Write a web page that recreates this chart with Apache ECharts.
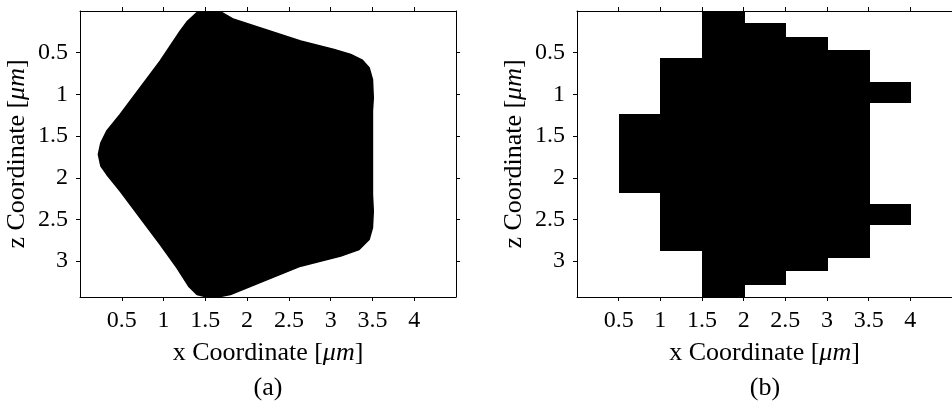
<!DOCTYPE html>
<html><head><meta charset="utf-8">
<script src="https://cdn.jsdelivr.net/npm/echarts@6/dist/echarts.min.js"></script>
<style>html,body{margin:0;padding:0;background:#fff}#c{width:952px;height:401px}</style>
</head><body><div id="c"></div><script>
// tick labels
const xTicks = [0.5, 1, 1.5, 2, 2.5, 3, 3.5, 4];
const zTicks = [0.5, 1, 1.5, 2, 2.5, 3];
// panel (a): outline of the pentagon-shaped particle
const shapeX = [1.40,1.55,1.70,1.84,2.64,3.04,3.24,3.38,3.46,3.50,3.51,3.50,3.50,3.51,3.50,3.46,3.34,3.12,2.64,1.80,1.65,1.52,1.40,1.30,1.16,0.96,0.72,0.48,0.32,0.25,0.22,0.25,0.32,0.48,0.72,0.96,1.20,1.28];
const shapeZ = [0.02,0.00,0.02,0.10,0.36,0.46,0.52,0.59,0.68,0.82,1.04,1.20,2.20,2.40,2.60,2.74,2.86,2.94,3.06,3.40,3.43,3.43,3.40,3.30,3.08,2.80,2.48,2.16,1.96,1.86,1.72,1.58,1.44,1.24,0.92,0.60,0.24,0.13];
// panel (b): voxelised blocks
const blockX0 = [0.5, 1.0, 1.5, 2.0, 2.5, 3.0, 3.5, 3.5];
const blockX1 = [1.0, 1.5, 2.0, 2.5, 3.0, 3.5, 4.0, 4.0];
const blockZTop = [1.24, 0.56, 0.00, 0.144, 0.312, 0.468, 0.856, 2.32];
const blockZBottom = [2.18, 2.876, 3.43, 3.29, 3.12, 2.96, 1.108, 2.57];

const FONT = 'Liberation Serif';
const xMin = 0, xMax = 4.5, zMin = 0, zMax = 3.43;
const nameStyle = {
  fontFamily: FONT, fontSize: 26, color: '#000',
  rich: {
    n: { fontFamily: FONT, fontSize: 26, color: '#000' },
    i: { fontFamily: FONT, fontSize: 26, color: '#000', fontStyle: 'italic' }
  }
};
function xAxes(g) {
  return [{
    type: 'value', gridIndex: g, position: 'bottom', min: xMin, max: xMax,
    name: '{n|x Coordinate [}{i|μm}{n|]}', nameLocation: 'middle', nameGap: 43,
    nameTextStyle: nameStyle,
    axisLine: { show: true, onZero: false, lineStyle: { color: '#000', width: 1 } },
    axisTick: { show: true, length: 4, customValues: xTicks, lineStyle: { color: '#000' } },
    axisLabel: { customValues: xTicks, margin: 12, fontFamily: FONT, fontSize: 24, color: '#000' },
    splitLine: { show: false }
  }, {
    type: 'value', gridIndex: g, position: 'top', min: xMin, max: xMax,
    axisLine: { show: true, onZero: false, lineStyle: { color: '#000', width: 1 } },
    axisTick: { show: true, length: 4, customValues: xTicks, lineStyle: { color: '#000' } },
    axisLabel: { show: false }, splitLine: { show: false }
  }];
}
function yAxes(g) {
  return [{
    type: 'value', gridIndex: g, position: 'left', min: zMin, max: zMax, inverse: true,
    name: '{n|z Coordinate [}{i|μm}{n|]}', nameLocation: 'middle', nameGap: 50,
    nameTextStyle: nameStyle,
    axisLine: { show: true, onZero: false, lineStyle: { color: '#000', width: 1 } },
    axisTick: { show: true, length: 4, customValues: zTicks, lineStyle: { color: '#000' } },
    axisLabel: { customValues: zTicks, margin: 12, fontFamily: FONT, fontSize: 24, color: '#000' },
    splitLine: { show: false }
  }, {
    type: 'value', gridIndex: g, position: 'right', min: zMin, max: zMax, inverse: true,
    axisLine: { show: true, onZero: false, lineStyle: { color: '#000', width: 1 } },
    axisTick: { show: true, length: 4, customValues: zTicks, lineStyle: { color: '#000' } },
    axisLabel: { show: false }, splitLine: { show: false }
  }];
}

const chart = echarts.init(document.getElementById('c'), null, { renderer: 'canvas' });
chart.setOption({
  animation: false,
  backgroundColor: '#fff',
  grid: [
    { left: 80, top: 11, width: 376, height: 286 },
    { left: 577, top: 11, width: 376, height: 286 }
  ],
  xAxis: [...xAxes(0), ...xAxes(1)],
  yAxis: [...yAxes(0), ...yAxes(1)],
  series: [{
    type: 'custom', xAxisIndex: 0, yAxisIndex: 0, clip: true,
    data: shapeX.map((x, i) => [x, shapeZ[i]]),
    renderItem: function (params, api) {
      if (params.dataIndex !== 0) return null;
      const pts = shapeX.map((x, i) => api.coord([x, shapeZ[i]]));
      return { type: 'polygon', shape: { points: pts }, style: { fill: '#000', stroke: '#000', lineWidth: 1.5, lineJoin: 'round' } };
    }
  }, {
    type: 'custom', xAxisIndex: 2, yAxisIndex: 2, clip: true,
    data: blockX0.map((x, i) => [x, blockX1[i], blockZTop[i], blockZBottom[i]]),
    encode: { x: [0, 1], y: [2, 3] },
    renderItem: function (params, api) {
      const p0 = api.coord([api.value(0), api.value(2)]);
      const p1 = api.coord([api.value(1), api.value(3)]);
      const x0 = Math.round(Math.min(p0[0], p1[0])), x1 = Math.round(Math.max(p0[0], p1[0]));
      const y0 = Math.round(Math.min(p0[1], p1[1])), y1 = Math.round(Math.max(p0[1], p1[1]));
      return {
        type: 'rect',
        shape: { x: x0, y: y0, width: x1 - x0 + 1, height: y1 - y0 },
        style: { fill: '#000' }
      };
    }
  }],
  graphic: [
    { type: 'text', x: 268, y: 388, style: { text: '(a)', align: 'center', verticalAlign: 'middle', font: '26px "Liberation Serif"', fill: '#000' } },
    { type: 'text', x: 765, y: 388, style: { text: '(b)', align: 'center', verticalAlign: 'middle', font: '26px "Liberation Serif"', fill: '#000' } }
  ]
});
</script></body></html>
